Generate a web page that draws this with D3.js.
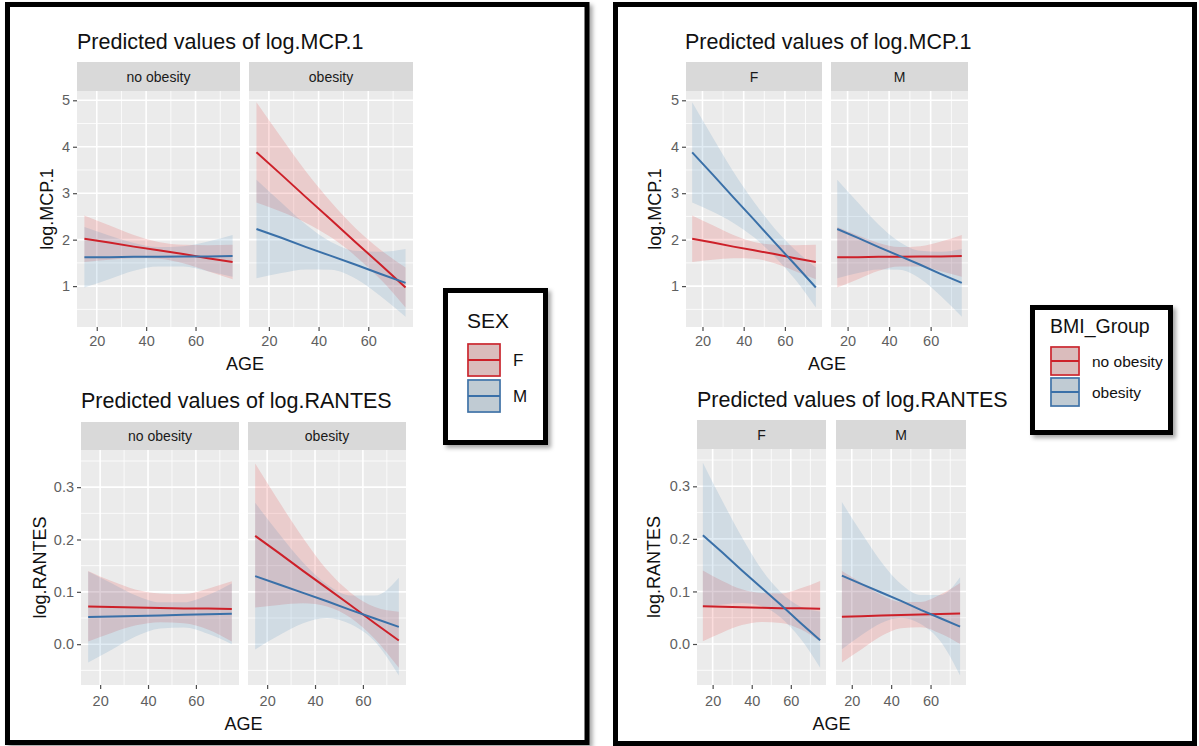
<!DOCTYPE html>
<html>
<head>
<meta charset="utf-8">
<script src="https://cdn.jsdelivr.net/npm/d3@7"></script>
<style>
html, body { margin: 0; padding: 0; background: #fff; }
svg { display: block; font-family: "Liberation Sans", Arial, sans-serif; }
</style>
</head>
<body>
<div id="chart"></div>
<script>
// categories and ticks
const ages = [15, 25, 35, 45, 55, 65, 75];
const bmiGroups = ["no obesity", "obesity"];
const sexes = ["F", "M"];
const ageTicks = [20, 40, 60];
const ageMinor = [30, 50, 70];
const mcpTicks = [1, 2, 3, 4, 5];
const mcpMinor = [0.5, 1.5, 2.5, 3.5, 4.5];
const rantesTicks = [0, 0.1, 0.2, 0.3];
const rantesMinor = [-0.05, 0.05, 0.15, 0.25, 0.35];

// log.MCP.1 predicted values (fit, lower, upper) by BMI group and sex
const mcpNoObF   = [2.02, 1.94, 1.85, 1.77, 1.69, 1.60, 1.52];
const mcpNoObFLo = [1.52, 1.57, 1.60, 1.59, 1.49, 1.32, 1.15];
const mcpNoObFHi = [2.52, 2.31, 2.10, 1.95, 1.89, 1.88, 1.89];
const mcpNoObM   = [1.62, 1.62, 1.63, 1.63, 1.64, 1.64, 1.65];
const mcpNoObMLo = [0.97, 1.15, 1.33, 1.42, 1.42, 1.32, 1.20];
const mcpNoObMHi = [2.27, 2.09, 1.93, 1.84, 1.86, 1.96, 2.10];
const mcpObF     = [3.88, 3.40, 2.91, 2.43, 1.94, 1.46, 0.97];
const mcpObFLo   = [2.80, 2.60, 2.36, 2.05, 1.64, 1.14, 0.54];
const mcpObFHi   = [4.96, 4.20, 3.46, 2.81, 2.24, 1.78, 1.40];
const mcpObM     = [2.23, 2.04, 1.84, 1.65, 1.46, 1.26, 1.07];
const mcpObMLo   = [1.17, 1.28, 1.36, 1.35, 1.16, 0.78, 0.34];
const mcpObMHi   = [3.29, 2.80, 2.32, 1.95, 1.76, 1.74, 1.80];

// log.RANTES predicted values
const rantesNoObF   = [0.072, 0.071, 0.070, 0.069, 0.068, 0.068, 0.067];
const rantesNoObFLo = [0.005, 0.022, 0.036, 0.042, 0.040, 0.028, 0.005];
const rantesNoObFHi = [0.140, 0.120, 0.104, 0.097, 0.096, 0.106, 0.120];
const rantesNoObM   = [0.052, 0.053, 0.054, 0.055, 0.056, 0.057, 0.058];
const rantesNoObMLo = [-0.035, -0.010, 0.015, 0.030, 0.032, 0.020, 0.000];
const rantesNoObMHi = [0.139, 0.116, 0.093, 0.080, 0.080, 0.094, 0.116];
const rantesObF     = [0.207, 0.174, 0.140, 0.107, 0.074, 0.040, 0.007];
const rantesObFLo   = [0.070, 0.075, 0.078, 0.072, 0.050, 0.010, -0.045];
const rantesObFHi   = [0.345, 0.272, 0.203, 0.142, 0.098, 0.071, 0.062];
const rantesObM     = [0.130, 0.114, 0.098, 0.082, 0.065, 0.049, 0.033];
const rantesObMLo   = [-0.010, 0.017, 0.040, 0.050, 0.038, 0.005, -0.060];
const rantesObMHi   = [0.270, 0.211, 0.156, 0.114, 0.093, 0.093, 0.127];

const RED = "#cd2029";
const BLUE = "#3a70a8";
const RED_FILL = "#e41a1c";
const BLUE_FILL = "#377eb8";

function series(fit, lo, hi) {
    return ages.map((a, i) => ({ age: a, fit: fit[i], lo: lo[i], hi: hi[i] }));
}

// lookup: outcome[bmi][sex]
const mcp = {
    "no obesity": { F: series(mcpNoObF, mcpNoObFLo, mcpNoObFHi), M: series(mcpNoObM, mcpNoObMLo, mcpNoObMHi) },
    "obesity": { F: series(mcpObF, mcpObFLo, mcpObFHi), M: series(mcpObM, mcpObMLo, mcpObMHi) }
};
const rantes = {
    "no obesity": { F: series(rantesNoObF, rantesNoObFLo, rantesNoObFHi), M: series(rantesNoObM, rantesNoObMLo, rantesNoObMHi) },
    "obesity": { F: series(rantesObF, rantesObFLo, rantesObFHi), M: series(rantesObM, rantesObMLo, rantesObMHi) }
};

const svg = d3.select("#chart").append("svg")
    .attr("width", 1199)
    .attr("height", 746);

const defs = svg.append("defs");
defs.append("filter").attr("id", "shadow")
    .attr("x", "-10%").attr("y", "-10%").attr("width", "130%").attr("height", "130%")
    .append("feDropShadow")
    .attr("dx", 3).attr("dy", 3).attr("stdDeviation", 2)
    .attr("flood-color", "#000").attr("flood-opacity", 0.35);

// outer frames
svg.append("rect")
    .attr("x", 7.5).attr("y", 4.5).attr("width", 579.5).attr("height", 738)
    .attr("fill", "#fff").attr("stroke", "#000").attr("stroke-width", 5)
    .attr("filter", "url(#shadow)");
svg.append("rect")
    .attr("x", 615.5).attr("y", 4.5).attr("width", 579).attr("height", 739)
    .attr("fill", "#fff").attr("stroke", "#000").attr("stroke-width", 5);

function drawBlock(cfg) {
    const g = svg.append("g");
    const y = d3.scaleLinear().domain(cfg.yDomain).range([cfg.panelBottom, cfg.stripBottom]);

    g.append("text")
        .attr("x", cfg.titleX).attr("y", cfg.titleY)
        .attr("font-size", 21.5).attr("fill", "#111")
        .text(cfg.title);

    cfg.panels.forEach((p, pi) => {
        const x = d3.scaleLinear().domain([12, 78]).range([p.x0, p.x1]);
        const pg = g.append("g");

        // strip
        pg.append("rect")
            .attr("x", p.x0).attr("y", cfg.stripTop)
            .attr("width", p.x1 - p.x0).attr("height", cfg.stripBottom - cfg.stripTop)
            .attr("fill", "#d9d9d9");
        pg.append("text")
            .attr("x", (p.x0 + p.x1) / 2).attr("y", (cfg.stripTop + cfg.stripBottom) / 2 + 5)
            .attr("text-anchor", "middle").attr("font-size", 14).attr("fill", "#1a1a1a")
            .text(p.label);

        // panel background and grid
        pg.append("rect")
            .attr("x", p.x0).attr("y", cfg.stripBottom)
            .attr("width", p.x1 - p.x0).attr("height", cfg.panelBottom - cfg.stripBottom)
            .attr("fill", "#ebebeb");

        pg.selectAll(".ymin").data(cfg.yMinor).enter().append("line")
            .attr("x1", p.x0).attr("x2", p.x1)
            .attr("y1", d => y(d)).attr("y2", d => y(d))
            .attr("stroke", "#fff").attr("stroke-width", 0.8);
        pg.selectAll(".xmin").data(ageMinor).enter().append("line")
            .attr("x1", d => x(d)).attr("x2", d => x(d))
            .attr("y1", cfg.stripBottom).attr("y2", cfg.panelBottom)
            .attr("stroke", "#fff").attr("stroke-width", 0.8);
        pg.selectAll(".ymaj").data(cfg.yTicks).enter().append("line")
            .attr("x1", p.x0).attr("x2", p.x1)
            .attr("y1", d => y(d)).attr("y2", d => y(d))
            .attr("stroke", "#fff").attr("stroke-width", 1.6);
        pg.selectAll(".xmaj").data(ageTicks).enter().append("line")
            .attr("x1", d => x(d)).attr("x2", d => x(d))
            .attr("y1", cfg.stripBottom).attr("y2", cfg.panelBottom)
            .attr("stroke", "#fff").attr("stroke-width", 1.6);

        const area = d3.area()
            .x(d => x(d.age))
            .y0(d => y(d.lo))
            .y1(d => y(d.hi))
            .curve(d3.curveMonotoneX);
        const line = d3.line()
            .x(d => x(d.age))
            .y(d => y(d.fit));

        // ribbons first, then lines on top
        p.groups.forEach(s => {
            pg.append("path")
                .datum(s.data)
                .attr("d", area)
                .attr("fill", s.fill)
                .attr("fill-opacity", 0.15);
        });
        p.groups.forEach(s => {
            pg.append("path")
                .datum(s.data)
                .attr("d", line)
                .attr("fill", "none")
                .attr("stroke", s.color)
                .attr("stroke-width", 2);
        });

        // x axis
        const xa = pg.append("g")
            .attr("transform", `translate(0,${cfg.panelBottom})`)
            .call(d3.axisBottom(x).tickValues(ageTicks).tickSize(4).tickPadding(cfg.xPad));
        xa.select(".domain").remove();
        xa.selectAll("line").attr("stroke", "#4d4d4d").attr("stroke-width", 1.2);
        xa.selectAll("text").attr("font-size", 14.5).attr("fill", "#5f5f5f")
            .attr("font-family", "Liberation Sans, Arial, sans-serif");

        // y axis on the first panel only
        if (pi === 0) {
            const ya = pg.append("g")
                .attr("transform", `translate(${p.x0},0)`)
                .call(d3.axisLeft(y).tickValues(cfg.yTicks).tickSize(4).tickPadding(3).tickFormat(cfg.yFormat));
            ya.select(".domain").remove();
            ya.selectAll("line").attr("stroke", "#4d4d4d").attr("stroke-width", 1.2);
            ya.selectAll("text").attr("font-size", 14.5).attr("fill", "#5f5f5f")
                .attr("font-family", "Liberation Sans, Arial, sans-serif");
        }
    });

    const left = cfg.panels[0].x0;
    const right = cfg.panels[cfg.panels.length - 1].x1;
    g.append("text")
        .attr("x", (left + right) / 2).attr("y", cfg.ageTitleY)
        .attr("text-anchor", "middle").attr("font-size", 18).attr("fill", "#111")
        .text("AGE");
    g.append("text")
        .attr("transform", `translate(${cfg.yTitleX},${(cfg.stripBottom + cfg.panelBottom) / 2}) rotate(-90)`)
        .attr("text-anchor", "middle").attr("font-size", 18).attr("fill", "#111")
        .text(cfg.yTitle);
}

// left chart: facets by BMI group, colour by sex
function bySex(outcome, bmi) {
    return [
        { data: outcome[bmi].F, color: RED, fill: RED_FILL },
        { data: outcome[bmi].M, color: BLUE, fill: BLUE_FILL }
    ];
}
// right chart: facets by sex, colour by BMI group
function byBmi(outcome, sex) {
    return [
        { data: outcome["no obesity"][sex], color: RED, fill: RED_FILL },
        { data: outcome["obesity"][sex], color: BLUE, fill: BLUE_FILL }
    ];
}

const fmtMcp = d3.format("d");
const fmtRantes = d3.format(".1f");

drawBlock({
    title: "Predicted values of log.MCP.1", titleX: 77, titleY: 49,
    stripTop: 62, stripBottom: 91, panelBottom: 327,
    yDomain: [0.12, 5.2], yTicks: mcpTicks, yMinor: mcpMinor, yFormat: fmtMcp,
    yTitle: "log.MCP.1", yTitleX: 53, ageTitleY: 370, xPad: 5,
    panels: [
        { x0: 77, x1: 240, label: bmiGroups[0], groups: bySex(mcp, bmiGroups[0]) },
        { x0: 249, x1: 413, label: bmiGroups[1], groups: bySex(mcp, bmiGroups[1]) }
    ]
});
drawBlock({
    title: "Predicted values of log.RANTES", titleX: 81, titleY: 408,
    stripTop: 422, stripBottom: 450, panelBottom: 685,
    yDomain: [-0.078, 0.371], yTicks: rantesTicks, yMinor: rantesMinor, yFormat: fmtRantes,
    yTitle: "log.RANTES", yTitleX: 46, ageTitleY: 730, xPad: 7,
    panels: [
        { x0: 81, x1: 239, label: bmiGroups[0], groups: bySex(rantes, bmiGroups[0]) },
        { x0: 248, x1: 406, label: bmiGroups[1], groups: bySex(rantes, bmiGroups[1]) }
    ]
});
drawBlock({
    title: "Predicted values of log.MCP.1", titleX: 685, titleY: 49,
    stripTop: 62, stripBottom: 91, panelBottom: 327,
    yDomain: [0.12, 5.2], yTicks: mcpTicks, yMinor: mcpMinor, yFormat: fmtMcp,
    yTitle: "log.MCP.1", yTitleX: 661, ageTitleY: 370, xPad: 5,
    panels: [
        { x0: 686, x1: 822, label: sexes[0], groups: byBmi(mcp, sexes[0]) },
        { x0: 831, x1: 968, label: sexes[1], groups: byBmi(mcp, sexes[1]) }
    ]
});
drawBlock({
    title: "Predicted values of log.RANTES", titleX: 697, titleY: 407,
    stripTop: 420, stripBottom: 449, panelBottom: 685,
    yDomain: [-0.078, 0.371], yTicks: rantesTicks, yMinor: rantesMinor, yFormat: fmtRantes,
    yTitle: "log.RANTES", yTitleX: 660, ageTitleY: 730, xPad: 7,
    panels: [
        { x0: 697, x1: 826, label: sexes[0], groups: byBmi(rantes, sexes[0]) },
        { x0: 836, x1: 966, label: sexes[1], groups: byBmi(rantes, sexes[1]) }
    ]
});

// legends
function drawLegend(cfg) {
    const g = svg.append("g");
    g.append("rect")
        .attr("x", cfg.x).attr("y", cfg.y).attr("width", cfg.w).attr("height", cfg.h)
        .attr("fill", "#fff").attr("stroke", "#000").attr("stroke-width", 5)
        .attr("filter", "url(#shadow)");
    g.append("text")
        .attr("x", cfg.titleX).attr("y", cfg.titleY)
        .attr("font-size", cfg.titleSize).attr("fill", "#111")
        .text(cfg.title);
    cfg.items.forEach((it, i) => {
        const ky = cfg.keyY + i * cfg.keyStep;
        g.append("rect")
            .attr("x", cfg.keyX).attr("y", ky).attr("width", cfg.keyW).attr("height", cfg.keyH)
            .attr("fill", "#d9d9d9");
        g.append("rect")
            .attr("x", cfg.keyX + 1).attr("y", ky + 1).attr("width", cfg.keyW - 2).attr("height", cfg.keyH - 2)
            .attr("fill", it.fill).attr("fill-opacity", 0.15)
            .attr("stroke", it.color).attr("stroke-width", 1.6);
        g.append("line")
            .attr("x1", cfg.keyX + 1).attr("x2", cfg.keyX + cfg.keyW - 1)
            .attr("y1", ky + cfg.keyH / 2).attr("y2", ky + cfg.keyH / 2)
            .attr("stroke", it.color).attr("stroke-width", 2);
        g.append("text")
            .attr("x", cfg.labelX).attr("y", ky + cfg.keyH / 2 + cfg.labelSize * 0.36)
            .attr("font-size", cfg.labelSize).attr("fill", "#111")
            .text(it.label);
    });
}

drawLegend({
    x: 445.5, y: 290.5, w: 100, h: 152,
    title: "SEX", titleX: 467, titleY: 328, titleSize: 21,
    keyX: 467, keyY: 343, keyW: 34, keyH: 34, keyStep: 36,
    labelX: 513, labelSize: 17,
    items: [
        { label: sexes[0], color: RED, fill: RED_FILL },
        { label: sexes[1], color: BLUE, fill: BLUE_FILL }
    ]
});
drawLegend({
    x: 1032.5, y: 307.5, w: 138, h: 125,
    title: "BMI_Group", titleX: 1050, titleY: 333, titleSize: 19.5,
    keyX: 1050, keyY: 346, keyW: 30, keyH: 30, keyStep: 31,
    labelX: 1092, labelSize: 15.5,
    items: [
        { label: bmiGroups[0], color: RED, fill: RED_FILL },
        { label: bmiGroups[1], color: BLUE, fill: BLUE_FILL }
    ]
});
</script>
</body>
</html>
